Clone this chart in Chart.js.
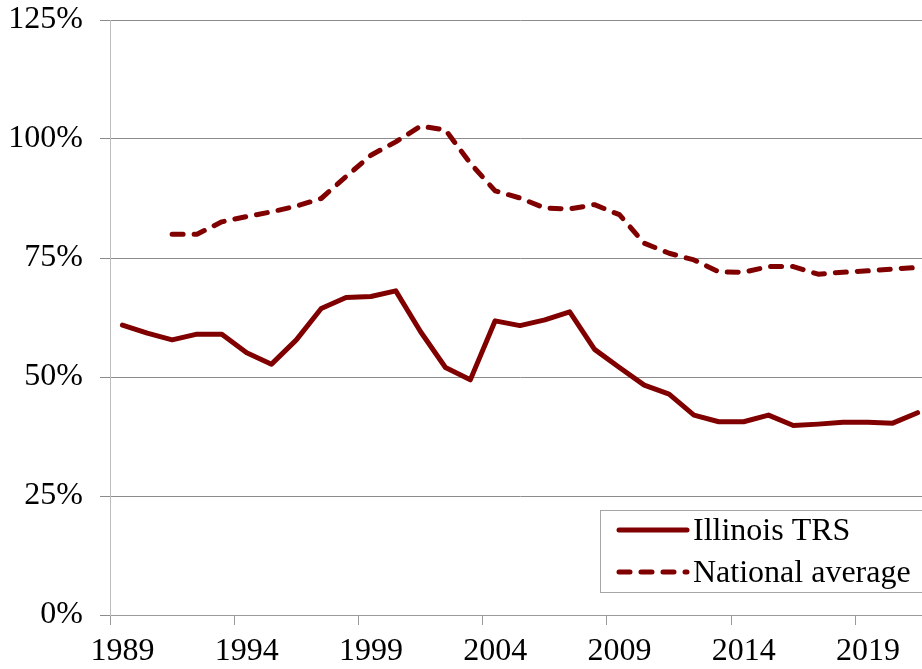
<!DOCTYPE html>
<html>
<head>
<meta charset="utf-8">
<script src="https://cdn.jsdelivr.net/npm/chart.js@4/dist/chart.umd.min.js"></script>
<style>
  html, body { margin: 0; padding: 0; background: #fff; overflow: hidden; }
  #wrap { position: absolute; left: 0; top: 0; width: 930px; height: 669px; }
</style>
</head>
<body>
<div id="wrap"><canvas id="funded"></canvas></div>
<script>
const years = [
  "1989", "1990", "1991", "1992", "1993", "1994", "1995", "1996", "1997",
  "1998", "1999", "2000", "2001", "2002", "2003", "2004", "2005", "2006",
  "2007", "2008", "2009", "2010", "2011", "2012", "2013", "2014", "2015",
  "2016", "2017", "2018", "2019", "2020", "2021",
];

// funded ratio, percent
const illinoisTRS = [
  60.9, 59.2, 57.8, 59.0, 59.0, 55.1, 52.7, 57.8, 64.4, 66.7, 66.9, 68.1,
  59.5, 52.0, 49.4, 61.8, 60.8, 62.0, 63.7, 55.8, 52.0, 48.3, 46.4, 42.0,
  40.6, 40.6, 42.0, 39.8, 40.1, 40.5, 40.5, 40.3, 42.5,
];

const nationalAverage = [
  null, null, 80.0, 80.0, 82.6, 83.7, 84.7, 85.9, 87.5, 92.1, 96.6, 99.4,
  102.7, 101.9, 94.9, 89.1, 87.6, 85.5, 85.3, 86.2, 84.1, 78.1, 76.0, 74.6,
  72.1, 72.0, 73.2, 73.2, 71.6, 72.0, 72.3, 72.7, 73.0,
];

const yTicks = [0, 25, 50, 75, 100, 125];

const maroon = "#800000";
const font = { family: "'Liberation Serif', 'Times New Roman', serif", size: 32 };

// legend box drawn inside the plot, like the original
const boxLegend = {
  id: "boxLegend",
  afterDraw(chart) {
    const ctx = chart.ctx;
    ctx.save();
    ctx.fillStyle = "#fff";
    ctx.strokeStyle = "#a6a6a6";
    ctx.lineWidth = 1;
    ctx.fillRect(600, 510, 340, 82);
    ctx.strokeRect(600.5, 510.5, 340, 82);
    chart.data.datasets.forEach((ds, i) => {
      const y = 530 + i * 42;
      ctx.strokeStyle = ds.borderColor;
      ctx.lineWidth = ds.borderWidth;
      ctx.lineCap = "round";
      ctx.setLineDash(ds.borderDash || []);
      ctx.beginPath();
      ctx.moveTo(619, y);
      ctx.lineTo(687, y);
      ctx.stroke();
      ctx.setLineDash([]);
      ctx.fillStyle = "#000";
      ctx.font = font.size + "px " + font.family;
      ctx.textBaseline = "alphabetic";
      ctx.textAlign = "left";
      ctx.fillText(ds.label, 693, y + 10);
    });
    ctx.restore();
  },
};

const data = {
  labels: years,
  datasets: [
    {
      label: "Illinois TRS",
      data: illinoisTRS,
      borderColor: maroon,
      borderWidth: 5,
      borderJoinStyle: "round",
      borderCapStyle: "round",
      pointRadius: 0,
      tension: 0,
    },
    {
      label: "National average",
      data: nationalAverage,
      borderColor: maroon,
      borderWidth: 5,
      borderDash: [11, 11],
      borderJoinStyle: "round",
      borderCapStyle: "round",
      pointRadius: 0,
      tension: 0,
    },
  ],
};

const config = {
  type: "line",
  data: data,
  plugins: [boxLegend],
  options: {
    responsive: true,
    maintainAspectRatio: false,
    animation: false,
    layout: { padding: { top: 20, right: 0, bottom: 0, left: 0 } },
    scales: {
      x: {
        offset: true,
        afterFit: (s) => { s.height = 54; s.paddingLeft = 0; s.paddingRight = 0; },
        grid: {
          offset: true,
          drawOnChartArea: false,
          tickLength: 10,
          color: (c) => (c.index % 5 === 0 ? "#999" : "rgba(0,0,0,0)"),
        },
        border: { color: "#999", width: 1 },
        ticks: {
          autoSkip: false,
          maxRotation: 0,
          padding: 7,
          color: "#000",
          font: font,
          callback: (v, i) => (i % 5 === 0 ? years[i] : ""),
        },
      },
      y: {
        min: 0,
        max: 125,
        afterFit: (s) => { s.width = 110; s.paddingTop = 0; s.paddingBottom = 0; },
        afterBuildTicks: (s) => { s.ticks = yTicks.map((v) => ({ value: v })); },
        grid: { color: "#8c8c8c", tickLength: 10 },
        border: { color: "#bdbdbd", width: 1 },
        ticks: {
          padding: 17,
          color: "#000",
          font: font,
          callback: (v) => v + "%",
        },
      },
    },
    plugins: {
      legend: { display: false },
      tooltip: { enabled: false },
    },
  },
};

const fundedChart = new Chart(document.getElementById("funded"), config);
</script>
</body>
</html>
